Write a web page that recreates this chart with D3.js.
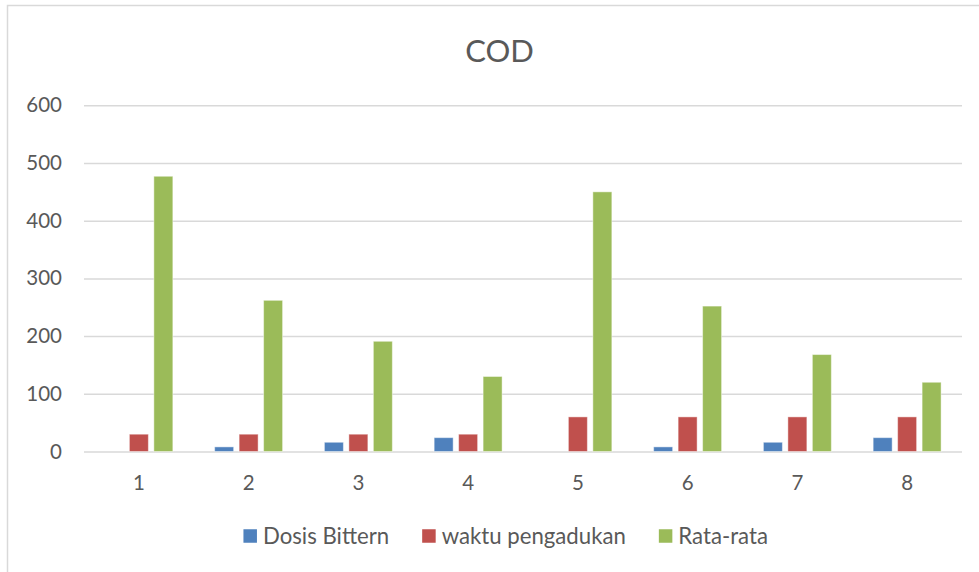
<!DOCTYPE html>
<html>
<head>
<meta charset="utf-8">
<script src="https://cdn.jsdelivr.net/npm/d3@7"></script>
<style>
  html, body { margin: 0; padding: 0; background: #fff; }
  svg { display: block; }
  text { font-family: Lato, "Open Sans", sans-serif; fill: #595959; }
</style>
</head>
<body>
<svg id="chart" width="979" height="572"></svg>
<script>
const categories = ["1", "2", "3", "4", "5", "6", "7", "8"];
const seriesNames = ["Dosis Bittern", "waktu pengadukan", "Rata-rata"];
const dosisBittern = [0, 8, 16, 24, 0, 8, 16, 24];
const waktuPengadukan = [30, 30, 30, 30, 60, 60, 60, 60];
const rataRata = [477, 262, 191, 130, 450, 252, 168, 120];
const yTicks = [0, 100, 200, 300, 400, 500, 600];
const colors = ["#4F81BD", "#C0504D", "#9BBB59"];
const title = "COD";

const series = [dosisBittern, waktuPengadukan, rataRata];

const svg = d3.select("#chart");
const W = 979, H = 572;

// chart area border
svg.append("rect")
  .attr("x", 7.5).attr("y", 5.5)
  .attr("width", W + 20).attr("height", H + 20)
  .attr("fill", "none").attr("stroke", "#d9d9d9").attr("stroke-width", 1.5);

const plot = { left: 84, right: 962, top: 105.3, bottom: 451.5 };

const x = d3.scaleBand().domain(categories).range([plot.left, plot.right]).padding(0);
const y = d3.scaleLinear().domain([0, 600]).range([plot.bottom, plot.top]);

const bw = x.bandwidth();
const barW = bw * 0.173;
const pitch = bw * 0.223;
const xs = d3.scaleBand().domain(seriesNames).range([-pitch * 1.5, pitch * 1.5]).padding(0);

// gridlines
const yAxis = d3.axisLeft(y).tickValues(yTicks).tickSize(-(plot.right - plot.left)).tickPadding(22).tickFormat(d3.format("d"));
const gy = svg.append("g").attr("transform", `translate(${plot.left},0)`).call(yAxis);
gy.select(".domain").remove();
gy.selectAll(".tick line").attr("stroke", "#d9d9d9").attr("stroke-width", 1.5);
gy.selectAll(".tick text").style("font-size", "20.5px").attr("fill", "#595959");

// bars
series.forEach((vals, si) => {
  svg.append("g").selectAll("rect")
    .data(vals)
    .join("rect")
    .attr("x", (d, i) => x(categories[i]) + bw / 2 + xs(seriesNames[si]) + (pitch - barW) / 2)
    .attr("y", d => y(d))
    .attr("width", barW)
    .attr("height", d => y(0) - y(d))
    .attr("fill", colors[si])
    .attr("stroke", "#ffffff").attr("stroke-opacity", 0.45).attr("stroke-width", 1);
});

// x axis labels
const xAxis = d3.axisBottom(x).tickSize(0).tickPadding(24);
const gx = svg.append("g").attr("transform", `translate(0,${plot.bottom})`).call(xAxis);
gx.select(".domain").remove();
gx.selectAll(".tick text").style("font-size", "20.5px").attr("fill", "#595959");

// title
svg.append("text")
  .attr("x", 499.5).attr("y", 62)
  .attr("text-anchor", "middle")
  .style("font-size", "31px")
  .text(title);

// legend
const leg = svg.append("g");
const sq = 13.5, sqGap = 6, itemGap = 33;
const items = seriesNames.map((n, i) => {
  const g = leg.append("g");
  g.append("rect").attr("width", sq).attr("height", sq).attr("y", -sq / 2).attr("fill", colors[i]);
  const t = g.append("text").attr("x", sq + sqGap).attr("dy", "0.35em").style("font-size", "22.2px").text(n);
  return { g, w: sq + sqGap + t.node().getComputedTextLength() };
});
const total = d3.sum(items, d => d.w) + itemGap * (items.length - 1);
let cx = 505.7 - total / 2;
items.forEach(it => {
  it.g.attr("transform", `translate(${cx},536)`);
  cx += it.w + itemGap;
});
</script>
</body>
</html>
